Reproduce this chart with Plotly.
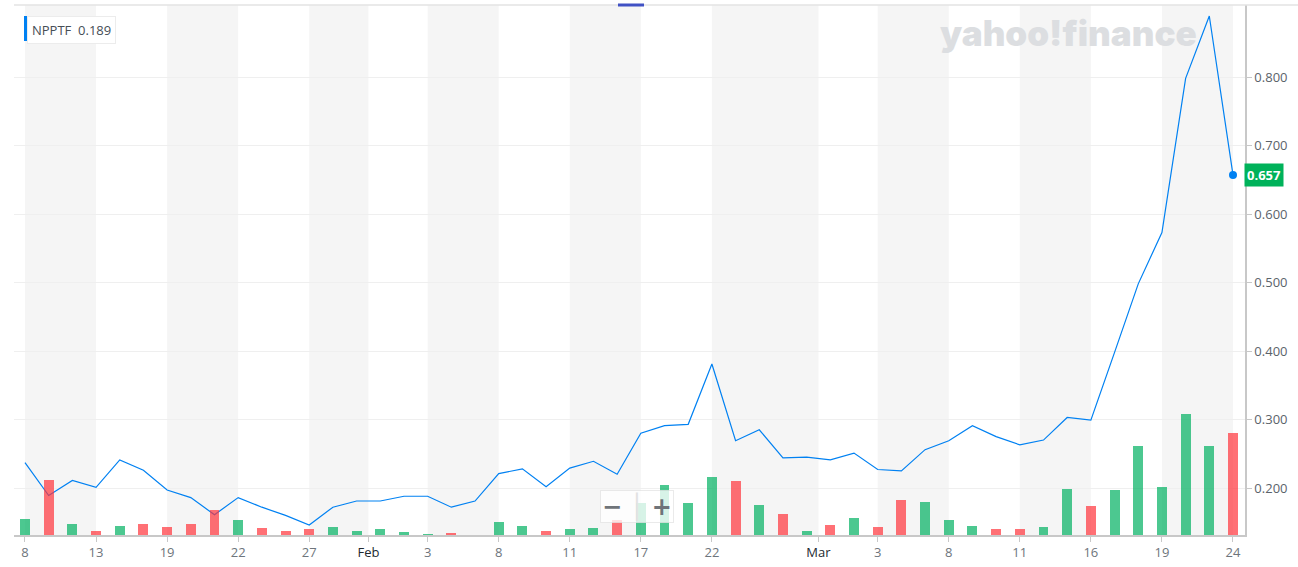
import pandas as pd
import plotly.graph_objects as go

# ---------------- data ----------------
holidays = ["2021-01-18", "2021-02-15"]
dates = [d for d in pd.bdate_range("2021-01-08", "2021-03-24").strftime("%Y-%m-%d") if d not in holidays]

close = [0.237, 0.189, 0.211, 0.201, 0.241, 0.226, 0.197, 0.186, 0.161, 0.186,
         0.172, 0.160, 0.146, 0.172, 0.181, 0.181, 0.188, 0.188, 0.172, 0.181,
         0.221, 0.228, 0.202, 0.229, 0.239, 0.220, 0.280, 0.291, 0.293, 0.381,
         0.269, 0.285, 0.244, 0.245, 0.241, 0.251, 0.227, 0.225, 0.256, 0.269,
         0.291, 0.275, 0.263, 0.270, 0.303, 0.299, 0.398, 0.498, 0.573, 0.798,
         0.889, 0.657]

volume = [163000, 553000, 110000, 43000, 93000, 113000, 83000, 113000, 253000, 153000,
          73000, 43000, 63000, 83000, 43000, 63000, 33000, 13000, 23000, 5000,
          133000, 93000, 43000, 63000, 73000, 150000, 323000, 503000, 323000, 583000,
          543000, 303000, 213000, 43000, 103000, 173000, 83000, 353000, 333000, 153000,
          93000, 63000, 63000, 83000, 463000, 293000, 453000, 893000, 483000, 1213000,
          893000, 1017000]

direction = ["up", "down", "up", "down", "up", "down", "down", "down", "down", "up",
             "down", "down", "down", "up", "up", "up", "up", "up", "down", "up",
             "up", "up", "down", "up", "up", "down", "up", "up", "up", "up",
             "down", "up", "down", "up", "down", "up", "down", "down", "up", "up",
             "up", "down", "down", "up", "up", "down", "up", "up", "up", "up",
             "up", "down"]

# tick labels: day ticks (date) and month ticks (first trading day of month)
day_ticks = ["2021-01-08", "2021-01-13", "2021-01-19", "2021-01-22", "2021-01-27",
             "2021-02-03", "2021-02-08", "2021-02-11", "2021-02-17", "2021-02-22",
             "2021-03-03", "2021-03-08", "2021-03-11", "2021-03-16", "2021-03-19", "2021-03-24"]
month_ticks = {"2021-02-01": "Feb", "2021-03-01": "Mar"}

symbol = "NPPTF"
tooltip_value = "0.189"

# ---------------- build ----------------
idx = list(range(len(dates)))
pos = {d: i for i, d in enumerate(dates)}

ticks = [(pos[d], str(int(d[-2:])), False) for d in day_ticks]
ticks += [(pos[d] - 0.5, lbl, True) for d, lbl in month_ticks.items()]
ticks.sort(key=lambda t: t[0])
tickvals = [t[0] for t in ticks]
ticktext = [f"<span style='color:#232a31'>{t[1]}</span>" if t[2] else t[1] for t in ticks]

GREEN = "rgba(0,176,97,0.7)"
RED = "rgba(255,51,58,0.7)"
bar_colors = [GREEN if d == "up" else RED for d in direction]

fig = go.Figure()

fig.add_trace(go.Bar(
    x=idx, y=volume, marker=dict(color=bar_colors, line=dict(width=0)),
    width=0.42, yaxis="y2", hoverinfo="skip", showlegend=False))

fig.add_trace(go.Scatter(
    x=idx, y=close, mode="lines", line=dict(color="#0081f2", width=1.2),
    customdata=dates, hovertemplate="%{customdata}: %{y:.3f}<extra></extra>",
    showlegend=False))

fig.add_trace(go.Scatter(
    x=[idx[-1]], y=[close[-1]], mode="markers",
    marker=dict(color="#0081f2", size=8), hoverinfo="skip", showlegend=False))

# alternating shaded bands between tick labels
shapes = []
for i in range(0, len(tickvals) - 1, 2):
    shapes.append(dict(type="rect", xref="x", yref="paper", x0=tickvals[i], x1=tickvals[i + 1],
                       y0=0, y1=1, fillcolor="#f5f5f5", line=dict(width=0), layer="below"))

W, H = 1298, 567
ml, mr, mt, mb = 14, 53, 5, 32
pw, ph = W - ml - mr, H - mt - mb


def px(xp):
    return (xp - ml) / pw


def py(yp):
    return 1 - (yp - mt) / ph


# top border line
shapes.append(dict(type="line", xref="paper", yref="paper", x0=0, x1=px(W), y0=1, y1=1,
                   line=dict(color="#e3e3e3", width=1.5), layer="above"))
# small blue tab at top
shapes.append(dict(type="rect", xref="paper", yref="paper", x0=px(618), x1=px(644),
                   y0=py(6.5), y1=py(3.5), fillcolor="#4051c4", line=dict(width=0), layer="above"))
# tooltip blue bar
shapes.append(dict(type="rect", xref="paper", yref="paper", x0=px(24), x1=px(27.5),
                   y0=py(41), y1=py(16), fillcolor="#0081f2", line=dict(width=0), layer="above"))

annotations = [
    dict(text="yahoo!finance", xref="paper", yref="paper", x=px(1068), y=py(33),
         xanchor="center", yanchor="middle", showarrow=False,
         font=dict(family="Inter", size=35, color="#dcdee1", weight=900)),
    dict(text=f"{symbol}  {tooltip_value}", xref="paper", yref="paper", x=px(27), y=py(16),
         xanchor="left", yanchor="top", showarrow=False, align="left",
         font=dict(family="Open Sans", size=13, color="#464e56"),
         bgcolor="white", bordercolor="#ececec", borderwidth=1, borderpad=4),
    dict(text=f"<b>{close[-1]:.3f}</b>", xref="paper", yref="y", x=1.0, y=close[-1],
         xanchor="left", yanchor="middle", xshift=-1, showarrow=False,
         font=dict(family="Open Sans", size=13, color="white"),
         bgcolor="#00b25a", borderpad=2),
    dict(text="<b>−</b> <span style='color:#e2e2e2'>│</span> <b>+</b>", xref="paper", yref="paper",
         x=px(637), y=py(506.5), xanchor="center", yanchor="middle", showarrow=False,
         font=dict(family="DejaVu Sans", size=24, color="#6f7479"),
         bgcolor="rgba(255,255,255,0.78)", bordercolor="rgba(225,225,225,0.7)", borderwidth=1, borderpad=1),
]

fig.update_layout(
    width=W, height=H,
    margin=dict(l=ml, r=mr, t=mt, b=mb),
    paper_bgcolor="white", plot_bgcolor="white",
    font=dict(family="Open Sans", size=13, color="#5b636a"),
    bargap=0,
    xaxis=dict(range=[-0.464, 51.507], tickmode="array", tickvals=tickvals, ticktext=ticktext,
               showgrid=False, zeroline=False, showline=True, linecolor="#c8c8c8", linewidth=1.5,
               ticks="outside", ticklen=5, tickcolor="#c8c8c8", tickfont=dict(size=13, color="#6e757c")),
    yaxis=dict(side="right", range=[0.1314, 0.9051], tickmode="array",
               tickvals=[0.2, 0.3, 0.4, 0.5, 0.6, 0.7, 0.8], tickformat=".3f",
               showgrid=True, gridcolor="#efefef", gridwidth=1, zeroline=False,
               showline=True, linecolor="#c8c8c8", linewidth=1.5,
               ticks="outside", ticklen=5, tickcolor="#c8c8c8",
               tickfont=dict(size=13, color="#5b636a")),
    yaxis2=dict(overlaying="y", range=[0, 5300000], visible=False, showgrid=False),
    shapes=shapes, annotations=annotations,
    hovermode="x",
)

fig.write_html("out.html", config={"displayModeBar": False},
               post_script="document.body.style.margin='0';document.body.style.overflow='hidden';")
